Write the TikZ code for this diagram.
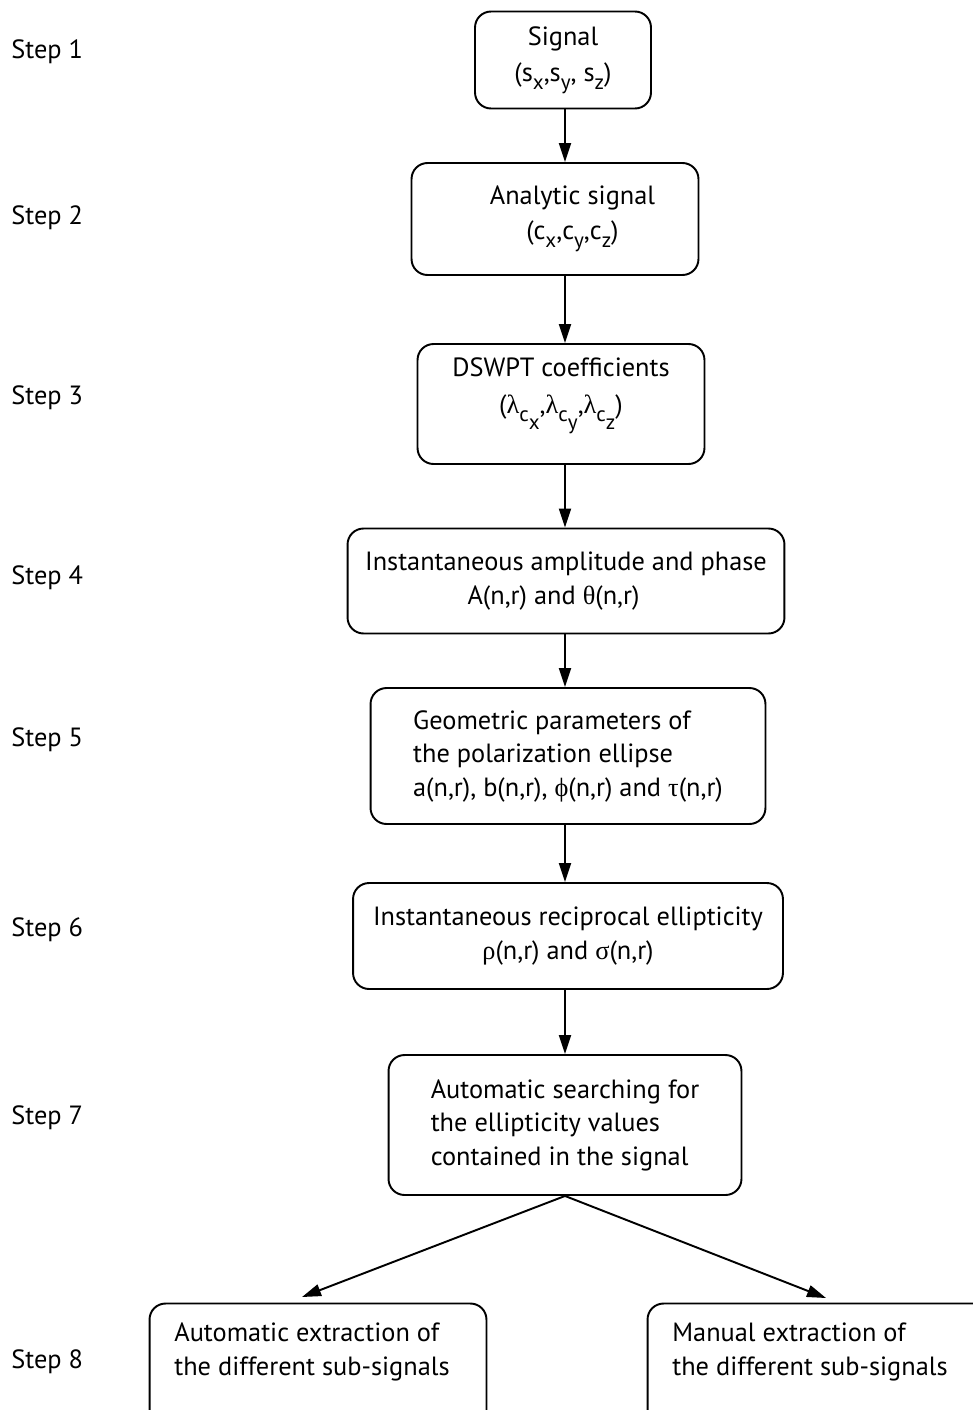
\documentclass[tikz,border=0pt]{standalone}
\usepackage{fontspec}
\setmainfont{PT Sans}
\newfontfamily\greekfont{Liberation Serif}
\usetikzlibrary{arrows.meta}

% lowered subscript and upright greek letter
\newcommand{\lowsub}[1]{\raisebox{-4.5pt}{\fontsize{12}{12}\selectfont #1}}
\newcommand{\grk}[1]{{\greekfont #1}}

\tikzset{
  stepbox/.style={draw, line width=1.1pt, rounded corners=0.32cm, align=center,
    inner sep=0pt, font=\fontsize{15}{19}\selectfont},
  boxtext/.style={align=left, inner sep=0pt, font=\fontsize{15}{19}\selectfont},
  flow/.style={line width=1.1pt, -{Triangle[length=0.38cm,width=0.24cm]}},
  steplabel/.style={anchor=west, inner sep=0pt, font=\fontsize{15}{19}\selectfont}
}

\begin{document}
\begin{tikzpicture}[x=0.02cm,y=-0.02cm]
    \path[use as bounding box, clip] (0,0) rectangle (973,1410);

    % step labels on the left
    \foreach \n/\y in {1/52,2/218,3/398,4/578,5/740,6/930,7/1118,8/1362}
        \node[steplabel] (lab\n) at (11,\y) {Step \n};

    \coordinate (spine) at (565,0);

    \node[stepbox, minimum width=3.52cm, minimum height=1.94cm] (sig) at (563,60)
        {\\[-8pt]Signal\\[2pt](s\lowsub{x},s\lowsub{y}, s\lowsub{z})};
    \node[stepbox, minimum width=5.74cm, minimum height=2.24cm] (ana) at (555,219)
        {\hspace*{0.7cm}Analytic signal\\[1pt]\hspace*{0.7cm}(c\lowsub{x},c\lowsub{y},c\lowsub{z})};
    \node[stepbox, minimum width=5.74cm, minimum height=2.4cm] (dsw) at (561,404)
        {DSWPT coefficients\\[2pt](\grk{λ}\lowsub{c\lowsub{x}},\grk{λ}\lowsub{c\lowsub{y}},\grk{λ}\lowsub{c\lowsub{z}})\\[2pt]};
    \node[stepbox, minimum width=8.74cm, minimum height=2.1cm] (amp) at (566,581)
        {Instantaneous amplitude and phase\\A(n,r) and \grk{θ}(n,r)\hspace*{0.5cm}};
    \node[stepbox, minimum width=7.9cm, minimum height=2.72cm] (geo) at (568,756)
        {\begin{tabular}{@{}l@{}}Geometric parameters of\\the polarization ellipse\\a(n,r), b(n,r), \grk{ϕ}(n,r) and \grk{τ}(n,r)\end{tabular}};
    \node[stepbox, minimum width=8.6cm, minimum height=2.12cm] (rec) at (568,936)
        {Instantaneous reciprocal ellipticity\\\grk{ρ}(n,r) and \grk{σ}(n,r)};
    \node[stepbox, minimum width=7.06cm, minimum height=2.8cm] (sea) at (565,1125)
        {\begin{tabular}{@{}l@{}}Automatic searching for\\the ellipticity values\\contained in the signal\end{tabular}};

    % last step, boxes run past the page edge
    \node[stepbox, minimum width=6.74cm, minimum height=2.74cm] (autex) at (318,1372) {};
    \node[boxtext] (autxt) at (312,1352) {Automatic extraction of\\the different sub-signals};
    \node[stepbox, minimum width=7.06cm, minimum height=2.74cm] (manex) at (824,1372) {};
    \node[boxtext] (mantxt) at (810,1352) {Manual extraction of\\the different sub-signals};

    \draw[flow] (sig.south -| spine) -- (ana.north -| spine);
    \draw[flow] (ana.south -| spine) -- (dsw.north -| spine);
    \draw[flow] (dsw.south -| spine) -- (amp.north -| spine);
    \draw[flow] (amp.south -| spine) -- (geo.north -| spine);
    \draw[flow] (geo.south -| spine) -- (rec.north -| spine);
    \draw[flow] (rec.south -| spine) -- (sea.north -| spine);

    \coordinate (tipA) at (302,1297);
    \coordinate (tipB) at (826,1298);
    \draw[flow] (sea.south) -- (tipA);
    \draw[flow] (sea.south) -- (tipB);
\end{tikzpicture}
\end{document}
